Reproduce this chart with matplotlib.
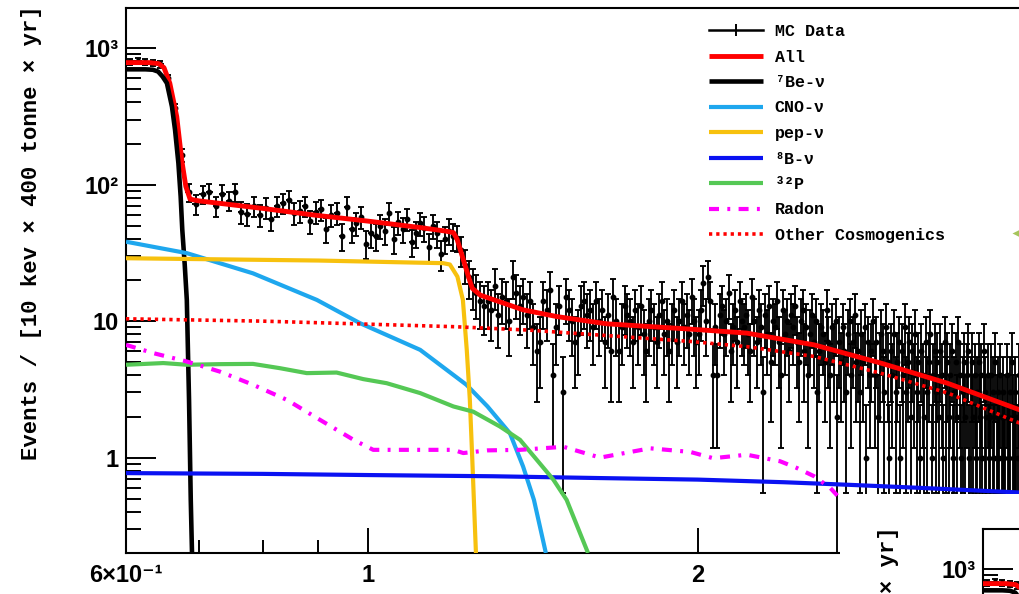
import numpy as np
import matplotlib
matplotlib.use('Agg')
import matplotlib.pyplot as plt
from matplotlib.ticker import FixedLocator, FixedFormatter, NullFormatter, LogLocator
from matplotlib.lines import Line2D
from matplotlib.patches import Rectangle

# MC data: 10 keV bins starting at 0.60 MeV
bin_start = 0.60
bin_width = 0.01
mc_counts = [
    # 0.605 - 0.695
    795, 810, 790, 785, 760, 600, 365, 165, 88, 72,
    # 0.705 - 1.195
    85, 88, 70, 86, 76, 88, 63, 61, 70, 60,
    68, 56, 70, 73, 77, 62, 64, 70, 54, 63,
    66, 47, 60, 62, 42, 69, 47, 52, 58, 37,
    44, 42, 50, 46, 62, 40, 53, 47, 56, 38,
    44, 52, 48, 35, 50, 44, 31, 40, 46, 42,
    # 1.205 - 1.265
    41, 33, 26, 21, 18, 16, 14,
    # 1.275 - 1.995
    13, 14, 12, 18, 11, 15, 14, 10, 21, 16,
    13, 15, 11, 14, 9, 6, 7, 14, 12, 17,
    4, 9, 13, 3, 15, 12, 10, 7, 8, 13,
    14, 11, 12, 9, 14, 10, 12, 7, 11, 6,
    15, 10, 6, 9, 13, 11, 10, 7, 12, 9,
    13, 8, 6, 10, 12, 9, 7, 11, 14, 8,
    10, 6, 9, 12, 7, 10, 14, 9, 11, 8,
    15, 10, 7,
    # 2.005 - 3.995
    8, 12, 19, 10, 21, 14, 4, 9, 4, 11,
    13, 8, 10, 16, 6, 9, 12, 7, 14, 10,
    9, 11, 8, 6, 15, 10, 7, 12, 9, 3,
    11, 8, 13, 5, 10, 9, 14, 7, 4, 12,
    8, 10, 6, 11, 9, 13, 7, 5, 10, 12,
    6, 9, 4, 8, 11, 7, 10, 3, 6, 9,
    8, 5, 12, 7, 4, 9, 6, 10, 2, 7,
    5, 9, 6, 3, 8, 10, 4, 7, 11, 5,
    6, 3, 8, 5, 9, 1, 7, 4, 6, 10,
    4, 7, 2, 5, 8, 6, 3, 9, 5, 1,
    6, 4, 8, 3, 5, 7, 1, 6, 4, 9,
    3, 5, 7, 2, 6, 4, 8, 3, 5, 1,
    6, 4, 2, 7, 3, 5, 8, 1, 4, 6,
    3, 5, 2, 6, 4, 1, 7, 3, 5, 2,
    4, 6, 1, 3, 5, 2, 7, 4, 1, 3,
    5, 2, 4, 6, 1, 3, 5, 2, 4, 1,
    3, 5, 2, 4, 1, 6, 3, 2, 4, 1,
    2, 4, 3, 1, 5, 2, 3, 1, 4, 2,
    3, 1, 2, 4, 2, 1, 3, 5, 2, 1,
    3, 2, 1, 4, 2, 1, 3, 2, 1, 2,
]

# fit components (energy in MeV, events per bin)
all_x = [0.600, 0.630, 0.643, 0.650, 0.658, 0.6677, 0.6747, 0.6806, 0.6867, 0.700,
         0.800, 0.890, 1.000, 1.115, 1.180, 1.196, 1.205, 1.2213, 1.2384, 1.2445,
         1.2657, 1.385, 1.487, 1.6515, 1.9696, 2.219, 2.557, 2.942, 3.385, 3.942, 4.5]
all_y = [784, 784, 770, 720, 554, 315, 152, 97, 78.3, 76,
         67, 60, 54, 48.5, 45.5, 44.5, 40, 28.1, 19.5, 17.4,
         15.5, 12.1, 10.8, 9.56, 8.74, 8.17, 6.7, 4.93, 3.51, 2.24, 1.5]

be7_x = [0.600, 0.625, 0.635, 0.642, 0.648, 0.654, 0.661, 0.6653, 0.670, 0.6732,
         0.6755, 0.679, 0.682, 0.6852, 0.6877, 0.6895]
be7_y = [700, 700, 695, 674, 620, 554, 373, 252, 144, 82,
         47, 26, 14.3, 2.65, 0.49, 0.2]

cno_x = [0.600, 0.682, 0.784, 0.897, 0.982, 1.115, 1.229, 1.285, 1.347, 1.385, 1.417, 1.453]
cno_y = [38.2, 31.5, 22.4, 14.3, 9.67, 6.16, 3.42, 2.37, 1.51, 0.86, 0.49, 0.2]

pep_x = [0.600, 0.900, 1.115, 1.170, 1.187, 1.206, 1.220, 1.230, 1.238, 1.2445, 1.254]
pep_y = [28.9, 27.8, 26.8, 26.6, 26.0, 21.2, 14.3, 6.16, 2.65, 0.96, 0.2]

b8_x = [0.600, 0.800, 1.000, 1.300, 1.630, 2.000, 2.400, 2.750, 3.200, 3.942, 4.500]
b8_y = [0.77, 0.76, 0.745, 0.73, 0.708, 0.69, 0.66, 0.632, 0.60, 0.555, 0.52]

p32_x = [0.600, 0.649, 0.682, 0.731, 0.784, 0.830, 0.878, 0.935, 0.989, 1.039,
         1.115, 1.196, 1.247, 1.319, 1.376, 1.426, 1.476, 1.518, 1.588]
p32_y = [4.79, 4.93, 4.79, 4.84, 4.86, 4.52, 4.16, 4.2, 3.76, 3.51,
         2.97, 2.37, 2.17, 1.69, 1.35, 0.96, 0.69, 0.49, 0.2]

rn_x = [0.600, 0.636, 0.682, 0.731, 0.784, 0.842, 0.903, 0.969, 1.010, 1.115,
        1.196, 1.221, 1.285, 1.376, 1.508, 1.629, 1.810, 1.970, 2.067, 2.219,
        2.380, 2.465, 2.557, 2.645, 2.701, 2.800]
rn_y = [6.7, 5.82, 5.06, 4.27, 3.42, 2.65, 1.89, 1.35, 1.14, 1.14,
        1.14, 1.08, 1.13, 1.14, 1.2, 1.0, 1.17, 1.1, 0.99, 1.05,
        0.94, 0.84, 0.73, 0.6, 0.5, 0.4]

oc_x = [0.600, 0.800, 1.000, 1.200, 1.400, 1.630, 1.970, 2.220, 2.560, 2.940, 3.390, 3.942, 4.500]
oc_y = [10.4, 10.0, 9.5, 9.1, 8.6, 7.9, 7.1, 6.5, 5.5, 4.16, 2.97, 1.79, 1.1]

components = [
    (all_x, all_y, '#ff0000', '-', 3.5, 'All'),
    (be7_x, be7_y, 'black', '-', 3.3, '\u2077Be-\u03bd'),
    (cno_x, cno_y, '#1ea7ee', '-', 3.0, 'CNO-\u03bd'),
    (pep_x, pep_y, '#f7c10e', '-', 3.0, 'pep-\u03bd'),
    (b8_x, b8_y, '#0a12f2', '-', 3.0, '\u2078B-\u03bd'),
    (p32_x, p32_y, '#55c855', '-', 3.0, '\u00b3\u00b2P'),
    (rn_x, rn_y, '#ff00ff', (0, (2.4, 2.0, 0.7, 2.0)), 3.0, 'Radon'),
    (oc_x, oc_y, '#ff0000', (0, (0.9, 1.1)), 2.6, 'Other Cosmogenics'),
]

MONO = ['Liberation Mono', 'DejaVu Sans Mono']
SANS = ['Liberation Sans', 'DejaVu Sans']
plt.rcParams['font.family'] = SANS
plt.rcParams['font.weight'] = 'bold'

W, H = 1019, 594
fig = plt.figure(figsize=(W / 100, H / 100), dpi=100)

energy = bin_start + bin_width * (np.arange(len(mc_counts)) + 0.5)
counts = np.array(mc_counts, dtype=float)
errors = np.sqrt(2 * counts)

# frame in pixels: left 126, top 8, bottom 553; x axis 0.6 .. 5 MeV
ax_w = 1006.5 / W
ax_h = 545 / H


def draw_panel(ax):
    ax.set_xscale('log')
    ax.set_yscale('log')
    ax.errorbar(energy, counts, yerr=errors, fmt='o', ms=3.2, color='k',
                elinewidth=1.35, capsize=2.4, capthick=1.35, zorder=2)
    ax.errorbar(energy, counts, xerr=bin_width / 2, fmt='none', ecolor='k',
                elinewidth=1.35, capsize=0, zorder=2)
    handles = [Line2D([], [], color='k', lw=1.8, marker='|', ms=9, mew=1.4)]
    for x, y, color, ls, lw, label in components:
        line, = ax.plot(x, y, color=color, ls=ls, lw=lw, zorder=3,
                        solid_capstyle='butt', dash_capstyle='butt')
        handles.append(line)
    ax.set_xlim(0.6, 5.0)
    ax.set_ylim(0.2, 1970)

    ax.xaxis.set_major_locator(FixedLocator([0.6, 1, 2]))
    ax.xaxis.set_major_formatter(FixedFormatter(['6\u00d710\u207b\u00b9', '1', '2']))
    ax.xaxis.set_minor_locator(FixedLocator([0.7, 0.8, 0.9]))
    ax.xaxis.set_minor_formatter(NullFormatter())
    ax.yaxis.set_major_locator(FixedLocator([1, 10, 100, 1000]))
    ax.yaxis.set_major_formatter(FixedFormatter(['1', '10', '10\u00b2', '10\u00b3']))
    ax.yaxis.set_minor_locator(LogLocator(base=10, subs=np.arange(2, 10)))
    ax.yaxis.set_minor_formatter(NullFormatter())

    ax.tick_params(which='both', direction='in', top=False, right=False, width=1.4)
    ax.tick_params(axis='y', which='major', length=21.5, pad=5, labelsize=17)
    ax.tick_params(axis='y', which='minor', length=10.8)
    ax.tick_params(axis='x', which='major', length=18, pad=8, labelsize=17)
    ax.tick_params(axis='x', which='minor', length=9.4)
    for sp in ax.spines.values():
        sp.set_linewidth(1.5)

    ax.set_ylabel('Events / [10 kev \u00d7 400 tonne \u00d7 yr]', loc='top',
                  family=MONO, weight='bold', fontsize=16)
    ax.yaxis.set_label_coords(-0.083, 1.005)
    return handles


ax1 = fig.add_axes([126 / W, 1 - 553 / H, ax_w, ax_h])
handles = draw_panel(ax1)
labels = ['MC Data'] + [c[5] for c in components]
ax1.legend(handles, labels, loc='upper left', bbox_to_anchor=(709 / W, 1 - 24 / H),
           bbox_transform=fig.transFigure, frameon=False, borderpad=0, borderaxespad=0,
           handlelength=3.25, handletextpad=0.7, labelspacing=0.63,
           prop={'family': MONO, 'weight': 'bold', 'size': 12})

# neighbouring panel pasted over the lower right corner
cover = Rectangle((840 / W, 0), 1, 1 - 494 / H, transform=fig.transFigure,
                  facecolor='white', edgecolor='none', zorder=1)
fig.patches.append(cover)
ax2 = fig.add_axes([983 / W, 1 - (553 + 521) / H, ax_w, ax_h], zorder=2)
draw_panel(ax2)

# arrow tip from the panel on the right
fig.add_artist(Line2D([1018 / W], [1 - 233 / H], marker='<', ms=8, color='#a6c45c',
                      mec='none', transform=fig.transFigure))

fig.savefig('out.png', dpi=100)
